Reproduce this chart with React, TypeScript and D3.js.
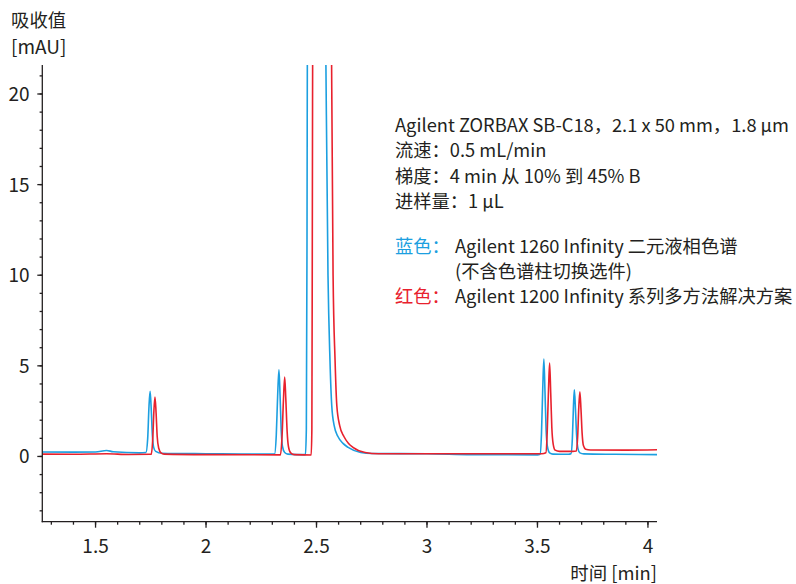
import * as d3 from "d3";

const WIDTH = 796;
const HEIGHT = 584;
const FONT = "'Noto Sans CJK SC', sans-serif";
const INK = "#231f20";
const BLUE = "#1c9fe0";
const RED = "#e8212d";

// [time (min), absorbance (mAU)]
const blueTrace: [number, number][] = [
  [1.259, 0.25], [1.4, 0.24], [1.5, 0.25], [1.55, 0.33], [1.58, 0.26],
  [1.7, 0.2], [1.728, 0.22], [1.736, 1.0], [1.742, 2.8], [1.747, 3.59],
  [1.752, 2.6], [1.757, 1.2], [1.763, 0.5], [1.772, 0.28], [1.8, 0.18],
  [2.0, 0.15], [2.2, 0.13], [2.31, 0.13], [2.318, 1.2], [2.324, 3.3],
  [2.33, 4.78], [2.335, 3.4], [2.34, 1.5], [2.346, 0.55], [2.356, 0.22],
  [2.37, 0.13], [2.45, 0.1], [2.454, 1.5], [2.457, 12], [2.46, 30],
  [2.5, 60], [2.54, 25], [2.552, 10], [2.561, 5.3], [2.569, 2.8],
  [2.58, 1.7], [2.597, 1.1], [2.62, 0.72], [2.643, 0.5], [2.7, 0.22],
  [2.75, 0.16], [3.0, 0.15], [3.2, 0.1], [3.5, 0.09], [3.512, 0.12],
  [3.518, 1.2], [3.524, 3.8], [3.529, 5.37], [3.534, 3.6], [3.539, 1.5],
  [3.545, 0.55], [3.555, 0.2], [3.57, 0.13], [3.64, 0.12], [3.652, 0.15],
  [3.658, 1.0], [3.663, 2.8], [3.667, 3.68], [3.672, 2.6], [3.677, 1.2],
  [3.683, 0.45], [3.692, 0.2], [3.71, 0.14], [3.85, 0.12], [4.041, 0.1],
];

const redTrace: [number, number][] = [
  [1.259, 0.13], [1.4, 0.12], [1.55, 0.15], [1.65, 0.11], [1.752, 0.12],
  [1.759, 1.0], [1.764, 2.5], [1.769, 3.28], [1.774, 2.4], [1.779, 1.1],
  [1.786, 0.45], [1.796, 0.2], [1.81, 0.13], [2.0, 0.1], [2.337, 0.09],
  [2.344, 1.1], [2.35, 3.0], [2.356, 4.38], [2.361, 3.2], [2.367, 1.4],
  [2.373, 0.55], [2.383, 0.2], [2.4, 0.1], [2.476, 0.08], [2.479, 1.5],
  [2.481, 12], [2.484, 30], [2.525, 60], [2.565, 28], [2.575, 10],
  [2.584, 5.3], [2.592, 2.8], [2.605, 1.7], [2.624, 1.1], [2.645, 0.72],
  [2.665, 0.5], [2.72, 0.22], [2.78, 0.15], [3.0, 0.15], [3.3, 0.15],
  [3.52, 0.15], [3.538, 0.2], [3.544, 1.3], [3.55, 3.7], [3.555, 5.15],
  [3.56, 3.5], [3.565, 1.6], [3.571, 0.7], [3.58, 0.35], [3.6, 0.28],
  [3.66, 0.28], [3.676, 0.3], [3.682, 1.1], [3.687, 2.7], [3.692, 3.57],
  [3.697, 2.6], [3.702, 1.3], [3.708, 0.6], [3.718, 0.4], [3.74, 0.36],
  [3.9, 0.35], [4.041, 0.37],
];

const xMajorTicks = [1.5, 2, 2.5, 3, 3.5, 4];
const xMinorTicks = d3.range(13, 41).map((d) => d / 10);
const yMajorTicks = [0, 5, 10, 15, 20];
const yMinorTicks = d3.range(-3, 22);

const infoLines = [
  "Agilent ZORBAX SB-C18，2.1 x 50 mm，1.8 µm",
  "流速：0.5 mL/min",
  "梯度：4 min 从 10% 到 45% B",
  "进样量：1 µL",
];
const legendRows = [
  { key: "蓝色：", text: "Agilent 1260 Infinity 二元液相色谱", color: BLUE },
  { key: "", text: "(不含色谱柱切换选件)", color: INK },
  { key: "红色：", text: "Agilent 1200 Infinity 系列多方法解决方案", color: RED },
];

export default function App() {
  const left = 42.3;
  const right = 657;
  const top = 65;
  const bottom = 521.7;

  const x = d3.scaleLinear().domain([1.259, 4.041]).range([left, right]);
  const y = d3.scaleLinear().domain([-3.6, 21.6]).range([bottom, top]);

  const line = d3
    .line<[number, number]>()
    .x((d) => x(d[0]))
    .y((d) => y(d[1]))
    .curve(d3.curveMonotoneX);

  return (
    <svg
      width={WIDTH}
      height={HEIGHT}
      style={{ position: "absolute", left: 0, top: 0, background: "#fff" }}
      fontFamily={FONT}
    >
      <defs>
        <clipPath id="plot">
          <rect x={left} y={top} width={right - left} height={bottom - top} />
        </clipPath>
      </defs>

      <g clipPath="url(#plot)" fill="none" strokeWidth={1.6} strokeLinejoin="round">
        <path d={line(blueTrace) ?? ""} stroke={BLUE} />
        <path d={line(redTrace) ?? ""} stroke={RED} />
      </g>

      {/* axes */}
      <g stroke={INK} strokeWidth={1.3}>
        <line x1={left} x2={left} y1={top} y2={bottom + 0.6} />
        <line x1={left - 0.6} x2={right} y1={bottom} y2={bottom} />
        {xMinorTicks.map((t) => (
          <line key={`xm${t}`} x1={x(t)} x2={x(t)} y1={bottom} y2={bottom + 3} />
        ))}
        {xMajorTicks.map((t) => (
          <line key={`xM${t}`} x1={x(t)} x2={x(t)} y1={bottom} y2={bottom + 6} />
        ))}
        {yMinorTicks.map((t) => (
          <line key={`ym${t}`} x1={left - 2.7} x2={left} y1={y(t)} y2={y(t)} />
        ))}
        {yMajorTicks.map((t) => (
          <line key={`yM${t}`} x1={left - 5} x2={left} y1={y(t)} y2={y(t)} />
        ))}
      </g>

      <g fill={INK} fontSize={19}>
        {xMajorTicks.map((t) => (
          <text key={`xl${t}`} x={x(t)} y={552.5} textAnchor="middle">
            {t}
          </text>
        ))}
        {yMajorTicks.map((t) => (
          <text key={`yl${t}`} x={29.5} y={y(t) + 7} textAnchor="end">
            {t}
          </text>
        ))}
      </g>

      {/* axis titles */}
      <g fill={INK} fontSize={18.4}>
        <text x={11} y={27}>吸收值</text>
        <text x={11} y={54} fontSize={19}>[mAU]</text>
        <text x={657} y={580} textAnchor="end">时间 [min]</text>
      </g>

      {/* method notes */}
      <g fontSize={18.3} fill={INK}>
        {infoLines.map((s, i) => (
          <text key={s} x={395} y={131.5 + i * 25.5}>
            {s}
          </text>
        ))}
        {legendRows.map((r, i) => (
          <g key={r.text}>
            {r.key && (
              <text x={395} y={253 + i * 25.2} fill={r.color}>
                {r.key}
              </text>
            )}
            <text x={455} y={253 + i * 25.2}>
              {r.text}
            </text>
          </g>
        ))}
      </g>
    </svg>
  );
}
